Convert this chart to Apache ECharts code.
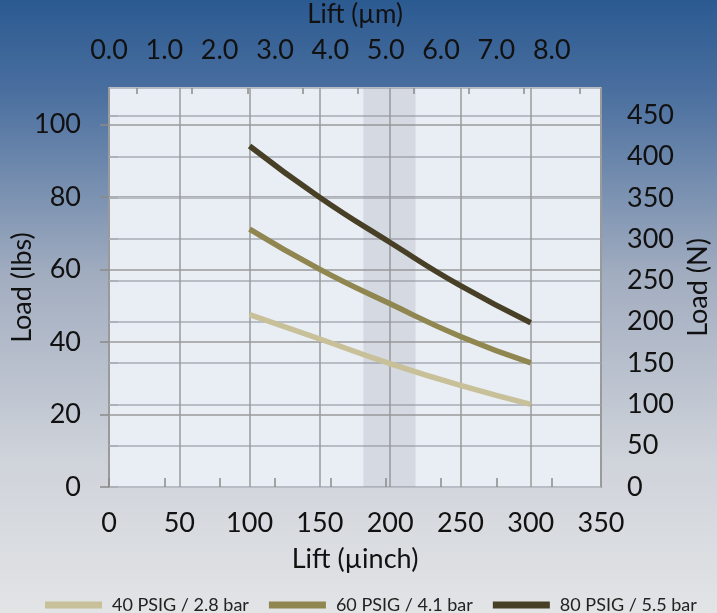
<!DOCTYPE html>
<html>
<head>
<meta charset="utf-8">
<script src="https://cdn.jsdelivr.net/npm/echarts@6/dist/echarts.min.js"></script>
<style>
html,body{margin:0;padding:0;}
#chart{width:717px;height:613px;}
</style>
</head>
<body>
<div id="chart"></div>
<script>
var liftInch = [100, 150, 200, 250, 300];
var load40 = [47.5, 40.8, 34.0, 28.0, 22.8];
var load60 = [71.1, 60.0, 50.5, 41.5, 34.2];
var load80 = [94.0, 79.8, 67.4, 55.5, 45.3];
var seriesNames = ['40 PSIG / 2.8 bar', '60 PSIG / 4.1 bar', '80 PSIG / 5.5 bar'];
var bandRange = [181, 218];

var FONT = 'Lato';
function pairs(ys) { return liftInch.map(function (x, i) { return [x, ys[i]]; }); }

var chart = echarts.init(document.getElementById('chart'));
var lineBase = { type: 'line', smooth: true, symbol: 'none', xAxisIndex: 0, yAxisIndex: 0 };

chart.setOption({
  animation: false,
  backgroundColor: {
    type: 'linear', x: 0, y: 0, x2: 0, y2: 1,
    colorStops: [
      { offset: 0, color: '#2b5a91' },
      { offset: 0.15, color: '#4a6f9f' },
      { offset: 0.45, color: '#a2adc0' },
      { offset: 0.75, color: '#cfd3da' },
      { offset: 1, color: '#e2e4e6' }
    ]
  },
  textStyle: { fontFamily: FONT },
  grid: {
    left: 109, right: 116, top: 88, bottom: 126,
    containLabel: false, outerBoundsMode: 'none',
    show: true, backgroundColor: '#e9edf4', borderColor: '#9a9a9a', borderWidth: 2
  },
  legend: {
    left: 40, top: 591,
    itemWidth: 57, itemHeight: 7, itemGap: 20, icon: 'rect',
    textStyle: { fontFamily: FONT, fontSize: 18, color: '#222', padding: [0, 0, 0, 5] },
    data: seriesNames
  },
  xAxis: [
    {
      type: 'value', position: 'bottom', min: 0, max: 350, interval: 50,
      axisLine: { show: false }, axisTick: { show: false },
      splitLine: { show: true, lineStyle: { color: '#9a9a9a', width: 1.5 } },
      axisLabel: { fontFamily: FONT, fontSize: 27, color: '#111', margin: 23 },
      name: 'Lift (\u00b5inch)', nameLocation: 'middle', nameGap: 59, nameMoveOverlap: false,
      nameTextStyle: { fontFamily: FONT, fontSize: 27, color: '#111' }
    },
    {
      type: 'value', position: 'top', min: 0, max: 8.89, interval: 1,
      axisLine: { show: false },
      axisTick: { show: true, length: 9, lineStyle: { color: '#8a8a8a', width: 1.5 } },
      splitLine: { show: false },
      axisLabel: {
        fontFamily: FONT, fontSize: 27, color: '#111', margin: 24, showMaxLabel: false,
        formatter: function (v) { return Math.abs(v - Math.round(v)) < 1e-6 ? v.toFixed(1) : ''; }
      },
      name: 'Lift (\u00b5m)', nameLocation: 'middle', nameGap: 60, nameMoveOverlap: false,
      nameTextStyle: { fontFamily: FONT, fontSize: 26, color: '#111' }
    },
    {
      type: 'value', position: 'top', min: 0, max: 8.89, interval: 1,
      axisLine: { show: false },
      axisTick: { show: false, inside: true },
      minorTick: { show: true, splitNumber: 2, length: 6, lineStyle: { color: '#8a8a8a', width: 1.5 } },
      splitLine: { show: false },
      axisLabel: { show: false }
    }
  ],
  yAxis: [
    {
      type: 'value', position: 'left', min: 0, max: 110, interval: 20,
      axisLine: { show: false },
      axisTick: { show: true, length: 9, lineStyle: { color: '#8a8a8a', width: 1.5 } },
      splitLine: { show: true, lineStyle: { color: '#9a9a9a', width: 1.5 } },
      axisLabel: { fontFamily: FONT, fontSize: 27, color: '#111', margin: 28, showMaxLabel: false },
      name: 'Load (lbs)', nameLocation: 'middle', nameGap: 73, nameMoveOverlap: false,
      nameTextStyle: { fontFamily: FONT, fontSize: 27, color: '#111' }
    },
    {
      type: 'value', position: 'right', min: 0, max: 483, interval: 50,
      axisLine: { show: false },
      axisTick: { show: true, length: 9, lineStyle: { color: '#a8acb4', width: 1.5 } },
      splitLine: { show: true, lineStyle: { color: '#b8bcc5', width: 2 } },
      axisLabel: { fontFamily: FONT, fontSize: 27, color: '#111', margin: 26, showMaxLabel: false },
      name: 'Load (N)', nameLocation: 'middle', nameGap: 84, nameMoveOverlap: false,
      nameTextStyle: { fontFamily: FONT, fontSize: 27, color: '#111' }
    }
  ],
  series: [
    {
      type: 'line', name: 'band', xAxisIndex: 0, yAxisIndex: 0, data: [], symbol: 'none',
      markArea: {
        silent: true,
        itemStyle: { color: 'rgba(140,144,156,0.21)' },
        data: [[{ xAxis: bandRange[0] }, { xAxis: bandRange[1] }]]
      }
    },
    Object.assign({}, lineBase, {
      name: seriesNames[0], data: pairs(load40), color: '#c8c099',
      lineStyle: { width: 5.5, color: '#c8c099' }
    }),
    Object.assign({}, lineBase, {
      name: seriesNames[1], data: pairs(load60), color: '#8f8650',
      lineStyle: { width: 5.5, color: '#8f8650' }
    }),
    Object.assign({}, lineBase, {
      name: seriesNames[2], data: pairs(load80), color: '#474027',
      lineStyle: { width: 5.5, color: '#474027' }
    })
  ]
});
</script>
</body>
</html>
